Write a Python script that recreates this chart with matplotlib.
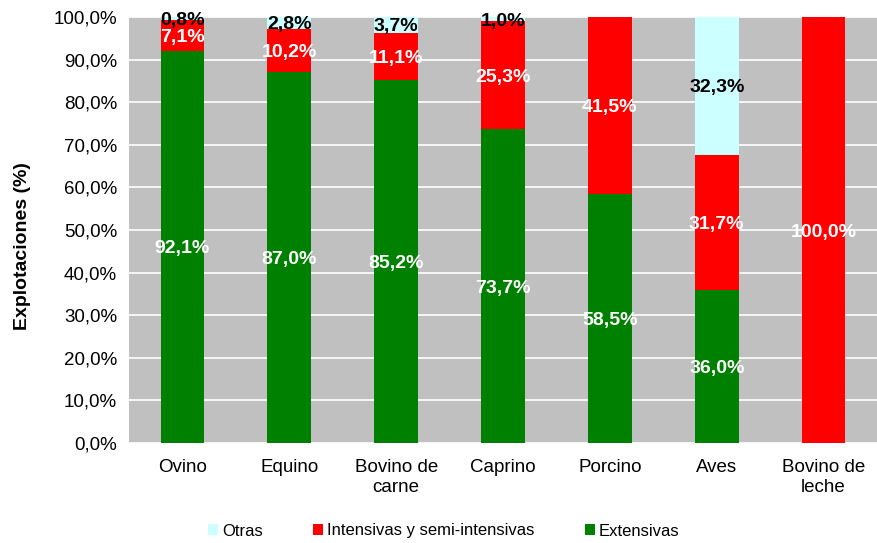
import matplotlib
matplotlib.use('Agg')
import matplotlib.pyplot as plt
import numpy as np

plt.rcParams['font.family'] = ['Liberation Sans', 'DejaVu Sans']

categorias = ['Ovino', 'Equino', 'Bovino de\ncarne', 'Caprino', 'Porcino', 'Aves', 'Bovino de\nleche']
extensivas = [92.1, 87.0, 85.2, 73.7, 58.5, 36.0, 0.0]
intensivas = [7.1, 10.2, 11.1, 25.3, 41.5, 31.7, 100.0]
otras = [0.8, 2.8, 3.7, 1.0, 0.0, 32.3, 0.0]

fig = plt.figure(figsize=(8.77, 5.43), dpi=100)
ax = fig.add_axes([129 / 877, 100 / 543, 748 / 877, 426 / 543])
ax.set_facecolor('#C0C0C0')

x = np.arange(len(categorias))
w = 0.41
ext = np.array(extensivas)
inte = np.array(intensivas)
otr = np.array(otras)

b1 = ax.bar(x, ext, w, color='#008000', label='Extensivas', zorder=3)
b2 = ax.bar(x, inte, w, bottom=ext, color='#FF0000', label='Intensivas y semi-intensivas', zorder=3)
b3 = ax.bar(x, otr, w, bottom=ext + inte, color='#CCFFFF', label='Otras', zorder=3)

def fmt(v):
    return f'{v:.1f}%'.replace('.', ',')

# etiquetas en el centro de cada tramo
for i in range(len(categorias)):
    if ext[i] > 0:
        ax.text(x[i], ext[i] / 2, fmt(ext[i]), ha='center', va='center_baseline',
                color='white', fontsize=14, fontweight='bold', zorder=4)
    if inte[i] > 0:
        ax.text(x[i], ext[i] + inte[i] / 2, fmt(inte[i]), ha='center', va='center_baseline',
                color='white', fontsize=14, fontweight='bold', zorder=4)
    if otr[i] > 0:
        ax.text(x[i], ext[i] + inte[i] + otr[i] / 2, fmt(otr[i]), ha='center', va='center_baseline',
                color='black', fontsize=14, fontweight='bold', zorder=4)

ax.set_xlim(-0.5, len(categorias) - 0.5)
ax.set_ylim(0, 100)
ax.set_yticks(np.arange(0, 101, 10))
ax.set_yticklabels([fmt(v) for v in np.arange(0, 101, 10)], fontsize=13.5)
ax.set_xticks(x)
ax.set_xticklabels(categorias, fontsize=13.5, linespacing=1.25)
ax.tick_params(axis='y', length=0, pad=8.5)
ax.tick_params(axis='x', length=0, pad=11.5)
ax.grid(axis='y', color='white', linewidth=1.2, zorder=1)
for s in ax.spines.values():
    s.set_visible(False)

ax.set_ylabel('Explotaciones (%)', fontsize=14, fontweight='bold')
ax.yaxis.set_label_coords((31 - 129) / 748, (443 - 246) / 426)

handles = [b3, b2, b1]
fig.legend(handles, [h.get_label() for h in handles], loc='center',
           bbox_to_anchor=(0.506, 12 / 543), ncol=3, frameon=False, fontsize=12,
           handlelength=0.6, handleheight=0.6, handletextpad=0.25, columnspacing=3.0,
           borderpad=0, borderaxespad=0)

fig.savefig('out.png', dpi=100)
